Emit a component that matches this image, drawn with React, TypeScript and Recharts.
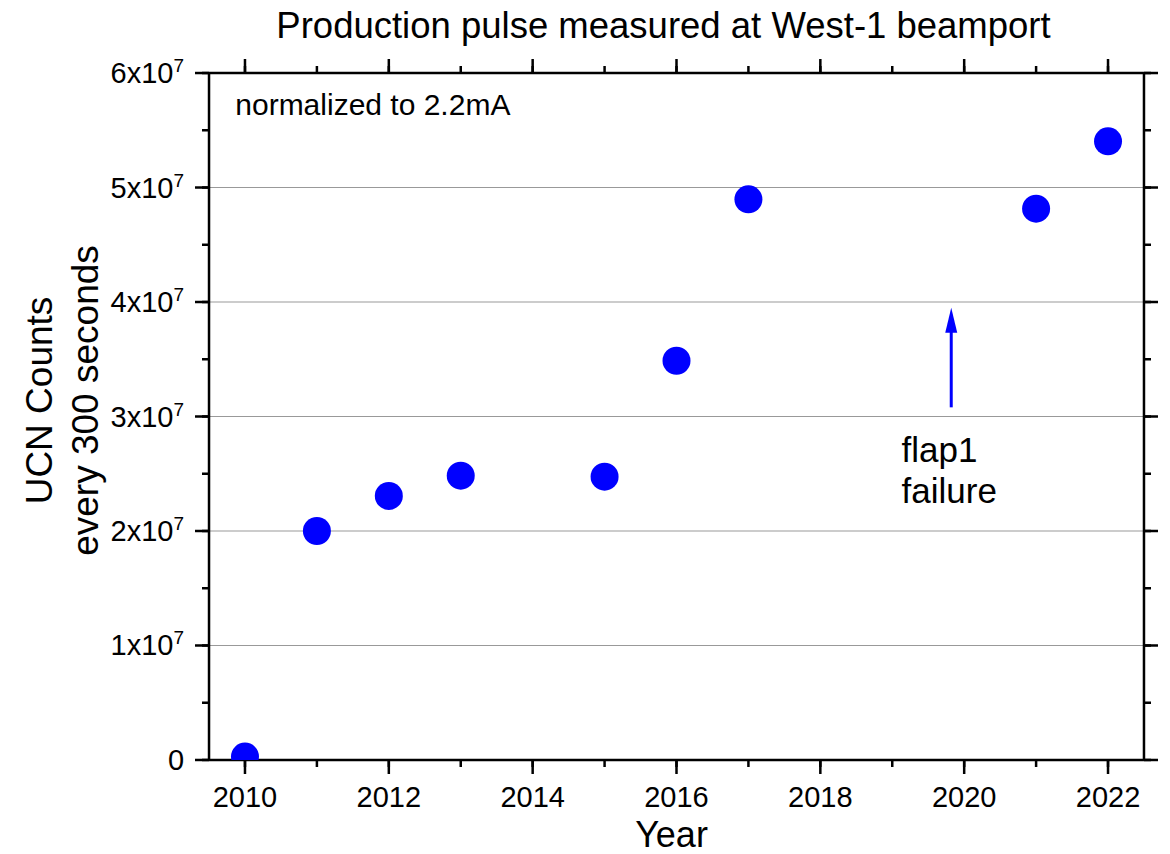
import React from "react";
import {
  ScatterChart,
  Scatter,
  XAxis,
  YAxis,
  CartesianGrid,
  ReferenceLine,
  ReferenceDot,
  ReferenceArea,
} from "recharts";

// ---- data ----
const years = [2010, 2011, 2012, 2013, 2015, 2016, 2017, 2021, 2022];
const counts = [3.0e5, 2.0e7, 2.306e7, 2.483e7, 2.474e7, 3.487e7, 4.897e7, 4.815e7, 5.403e7];

const xMajorTicks = [2010, 2012, 2014, 2016, 2018, 2020, 2022];
const xMinorTicks = [2010, 2011, 2012, 2013, 2014, 2015, 2016, 2017, 2018, 2019, 2020, 2021, 2022];
const yMajorTicks = [0, 1e7, 2e7, 3e7, 4e7, 5e7, 6e7];
const yMinorTicks = [0, 5e6, 1e7, 1.5e7, 2e7, 2.5e7, 3e7, 3.5e7, 4e7, 4.5e7, 5e7, 5.5e7, 6e7];

const xDomain: [number, number] = [2009.5, 2022.5];
const yDomain: [number, number] = [0, 6e7];

const titleText = "Production pulse measured at West-1 beamport";
const xLabelText = "Year";
const yLabelLines = ["UCN Counts", "every 300 seconds"];
const noteText = "normalized to 2.2mA";
const noteAnchor = { x: 2009.865, y: 5.633e7 };
const arrowYear = 2019.82;
const arrowFrom = 3.08e7;
const arrowTo = 3.95e7;
const flapLines = ["flap1", "failure"];
const flapAnchor = { x: 2019.13, y: 2.603e7 };

const data = years.map((x, i) => ({ x, y: counts[i] }));

const FONT = "'Liberation Sans', Arial, sans-serif";
const AX = "#000";
const AXW = 2.5;
const THIN = 0.01;
const CLIP_ID = "plot-area-clip";

const NoTick = () => <g />;
const NoShape = () => <g />;

const YTick = (props: any) => {
  const { x, y, payload } = props;
  const v = payload.value as number;
  if (v === 0) {
    return (
      <text x={x - 9} y={y + 10} textAnchor="end" fontFamily={FONT} fontSize={29} fill="#000">
        0
      </text>
    );
  }
  const m = Math.round(v / 1e7);
  return (
    <text x={x - 9} y={y + 10} textAnchor="end" fontFamily={FONT} fontSize={29} fill="#000">
      <tspan>{`${m}x10`}</tspan>
      <tspan dy={-11} fontSize={19}>7</tspan>
    </text>
  );
};

const XTick = (props: any) => {
  const { x, y, payload } = props;
  return (
    <text x={x} y={y + 31} textAnchor="middle" fontFamily={FONT} fontSize={29} fill="#000">
      {payload.value}
    </text>
  );
};

const TitleLabel = (props: any) => {
  const vb = props.viewBox || {};
  const cx = vb.x + vb.width / 2 - 13;
  return (
    <text x={cx} y={vb.y - 35} textAnchor="middle" fontFamily={FONT} fontSize={36.5} fill="#000">
      {titleText}
    </text>
  );
};

const XLabel = (props: any) => {
  const vb = props.viewBox || {};
  const cx = vb.x + vb.width / 2 - 5;
  return (
    <text x={cx} y={vb.y + 87} textAnchor="middle" fontFamily={FONT} fontSize={36} fill="#000">
      {xLabelText}
    </text>
  );
};

const YLabel = (props: any) => {
  const vb = props.viewBox || {};
  const cy = vb.y + vb.height / 2 - 16;
  const x1 = 44;
  const x2 = 90;
  return (
    <g>
      <text x={x1} y={cy} transform={`rotate(-90 ${x1} ${cy})`} textAnchor="middle" fontFamily={FONT} fontSize={37} fill="#000">
        {yLabelLines[0]}
      </text>
      <text x={x2} y={cy} transform={`rotate(-90 ${x2} ${cy})`} textAnchor="middle" fontFamily={FONT} fontSize={37} fill="#000">
        {yLabelLines[1]}
      </text>
    </g>
  );
};

const Arrow = (props: any) => {
  const { x1, y1, x2, y2 } = props;
  const head = 25;
  const hw = 6;
  const tipX = x2;
  const tipY = y2;
  return (
    <g>
      <line x1={x1} y1={y1} x2={tipX} y2={tipY + head - 2} stroke="#0000ff" strokeWidth={3} />
      <polygon
        points={`${tipX},${tipY} ${tipX - hw},${tipY + head} ${tipX + hw},${tipY + head}`}
        fill="#0000ff"
      />
    </g>
  );
};

const NoteShape = (props: any) => (
  <text x={props.cx} y={props.cy} fontFamily={FONT} fontSize={30} fill="#000">
    {noteText}
  </text>
);

const FlapShape = (props: any) => (
  <text x={props.cx} y={props.cy} fontFamily={FONT} fontSize={35} fill="#000">
    <tspan x={props.cx}>{flapLines[0]}</tspan>
    <tspan x={props.cx} dy={41}>{flapLines[1]}</tspan>
  </text>
);

// Defines a clip path equal to the plot area (rect computed by the chart's scales)
const ClipDef = (props: any) => {
  const { x, y, width, height } = props;
  return (
    <defs>
      <clipPath id={CLIP_ID}>
        <rect x={x} y={y} width={width} height={height} />
      </clipPath>
    </defs>
  );
};

const Dot = (props: any) => (
  <circle cx={props.cx} cy={props.cy} r={14} fill="#0000ff" clipPath={`url(#${CLIP_ID})`} />
);

const xAxisCommon = {
  type: "number" as const,
  dataKey: "x",
  domain: xDomain,
  allowDataOverflow: true,
  height: THIN,
  tickLine: { stroke: AX, strokeWidth: AXW },
  interval: 0 as const,
};

const yAxisCommon = {
  type: "number" as const,
  dataKey: "y",
  domain: yDomain,
  allowDataOverflow: true,
  width: THIN,
  tickLine: { stroke: AX, strokeWidth: AXW },
  interval: 0 as const,
};

export default function App() {
  return (
    <div style={{ width: 1160, height: 846 }}>
      <ScatterChart
        width={1160}
        height={846}
        margin={{ top: 65, right: 24, bottom: 94, left: 201 }}
      >
        <CartesianGrid
          xAxisId="b"
          yAxisId="l"
          vertical={false}
          horizontal={true}
          stroke="#999999"
          strokeWidth={1.2}
        />
        <ReferenceArea
          xAxisId="b"
          yAxisId="l"
          x1={xDomain[0]}
          x2={xDomain[1]}
          y1={yDomain[0]}
          y2={yDomain[1]}
          shape={<ClipDef />}
        />
        {/* top axes */}
        <XAxis
          {...xAxisCommon}
          xAxisId="t"
          orientation="top"
          ticks={xMajorTicks}
          tickSize={14}
          axisLine={{ stroke: AX, strokeWidth: AXW }}
          tick={<NoTick />}
          label={<TitleLabel />}
        />
        <XAxis
          {...xAxisCommon}
          xAxisId="tm"
          orientation="top"
          ticks={xMinorTicks}
          tickSize={7}
          axisLine={false}
          tick={<NoTick />}
        />
        {/* bottom axes */}
        <XAxis
          {...xAxisCommon}
          xAxisId="b"
          orientation="bottom"
          ticks={xMajorTicks}
          tickSize={14}
          axisLine={{ stroke: AX, strokeWidth: AXW }}
          tick={<XTick />}
          label={<XLabel />}
        />
        <XAxis
          {...xAxisCommon}
          xAxisId="bm"
          orientation="bottom"
          ticks={xMinorTicks}
          tickSize={7}
          axisLine={false}
          tick={<NoTick />}
        />
        {/* left axes */}
        <YAxis
          {...yAxisCommon}
          yAxisId="l"
          orientation="left"
          ticks={yMajorTicks}
          tickSize={14}
          axisLine={{ stroke: AX, strokeWidth: AXW }}
          tick={<YTick />}
          label={<YLabel />}
        />
        <YAxis
          {...yAxisCommon}
          yAxisId="lm"
          orientation="left"
          ticks={yMinorTicks}
          tickSize={7}
          axisLine={false}
          tick={<NoTick />}
        />
        {/* right axes */}
        <YAxis
          {...yAxisCommon}
          yAxisId="r"
          orientation="right"
          ticks={yMajorTicks}
          tickSize={14}
          axisLine={{ stroke: AX, strokeWidth: AXW }}
          tick={<NoTick />}
        />
        <YAxis
          {...yAxisCommon}
          yAxisId="rm"
          orientation="right"
          ticks={yMinorTicks}
          tickSize={7}
          axisLine={false}
          tick={<NoTick />}
        />
        {/* invisible series that bind the frame axes to the same data */}
        <Scatter xAxisId="t" yAxisId="r" data={data} shape={<NoShape />} isAnimationActive={false} />
        <Scatter xAxisId="tm" yAxisId="rm" data={data} shape={<NoShape />} isAnimationActive={false} />
        <Scatter xAxisId="bm" yAxisId="lm" data={data} shape={<NoShape />} isAnimationActive={false} />
        <Scatter
          xAxisId="b"
          yAxisId="l"
          data={data}
          fill="#0000ff"
          shape={<Dot />}
          isAnimationActive={false}
        />
        <ReferenceLine
          xAxisId="b"
          yAxisId="l"
          segment={[
            { x: arrowYear, y: arrowFrom },
            { x: arrowYear, y: arrowTo },
          ]}
          shape={<Arrow />}
        />
        <ReferenceDot
          xAxisId="b"
          yAxisId="l"
          x={noteAnchor.x}
          y={noteAnchor.y}
          shape={<NoteShape />}
        />
        <ReferenceDot
          xAxisId="b"
          yAxisId="l"
          x={flapAnchor.x}
          y={flapAnchor.y}
          shape={<FlapShape />}
        />
      </ScatterChart>
    </div>
  );
}
